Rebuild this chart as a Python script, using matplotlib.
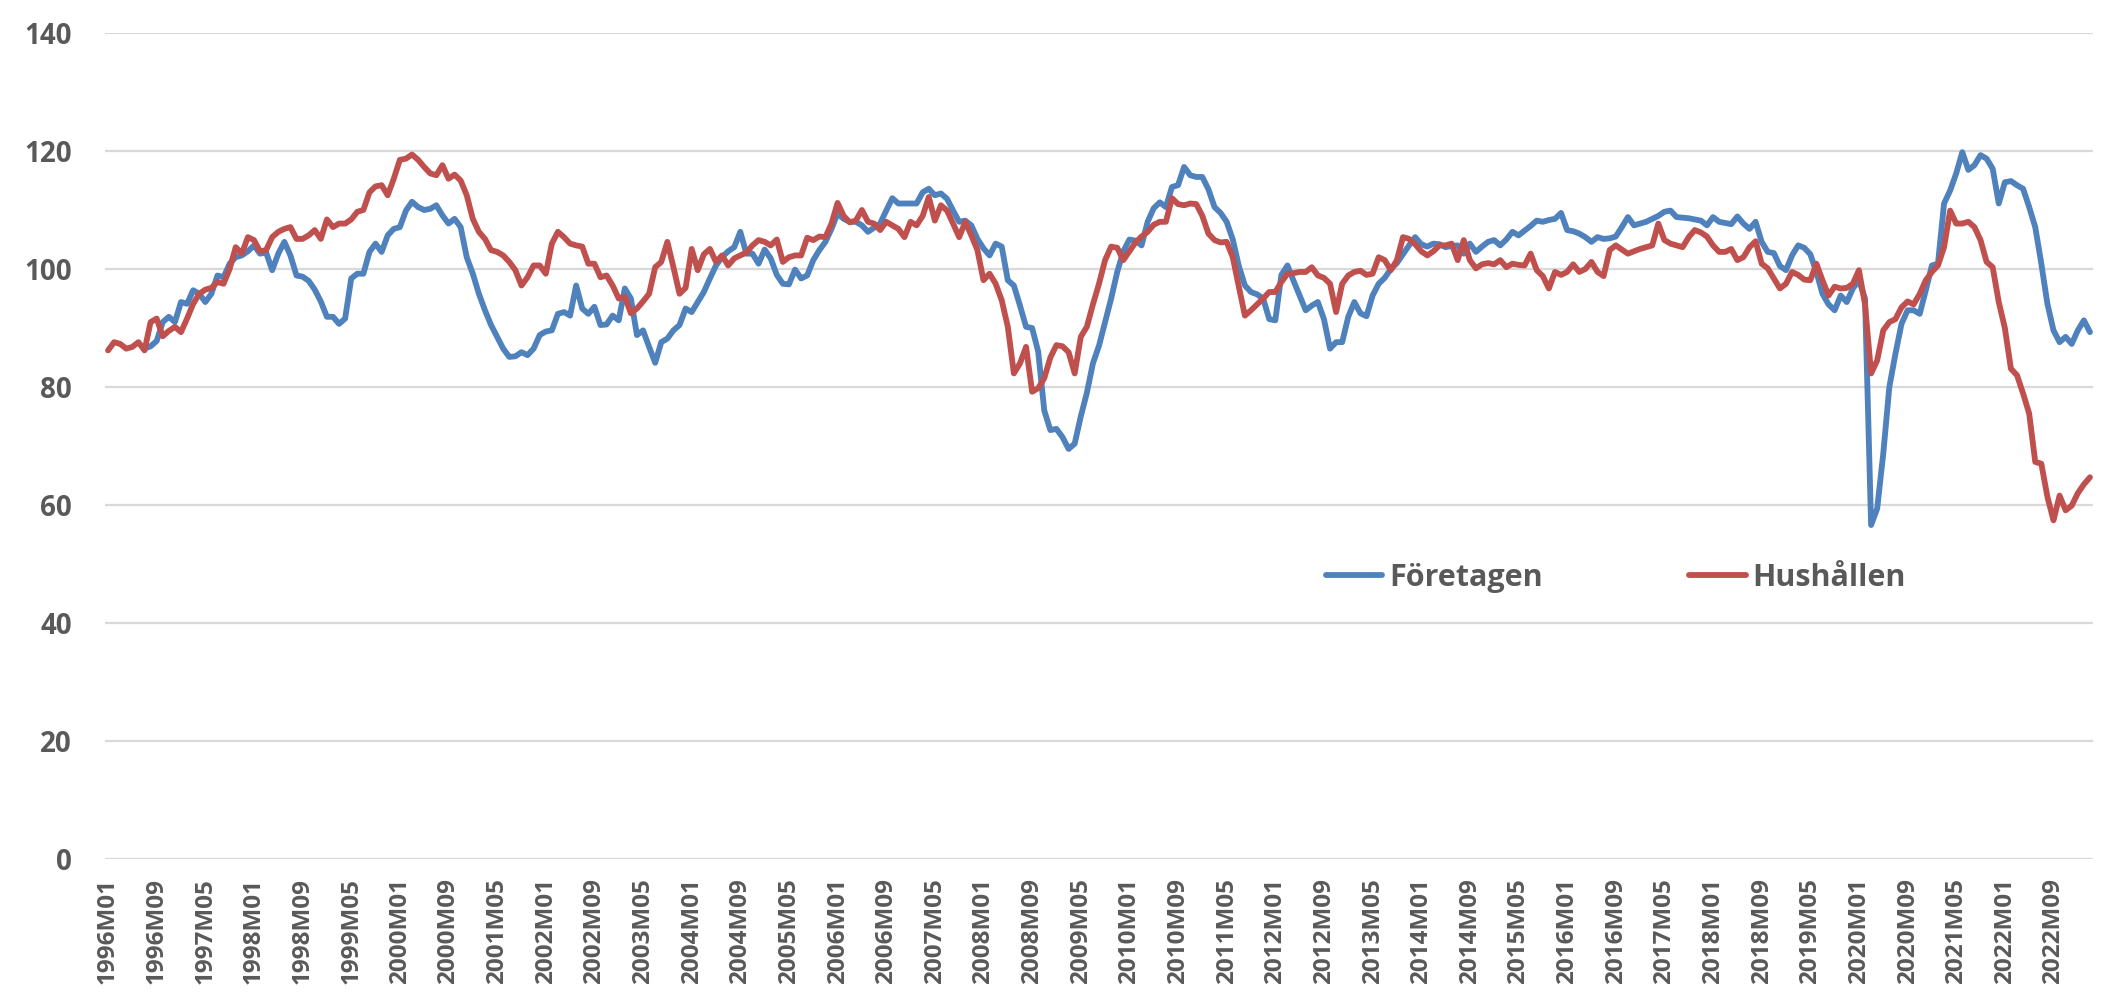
import numpy as np
import matplotlib.pyplot as plt

# Konfidensindikatorer, månadsdata 1996M01 - 2023M03
start_year = 1996

foretagen = [
    None, None, None, None, None, None, 86.5, 86.9, 87.8, 91.0, 91.9, 91.0,  # 1996
    94.4, 94.1, 96.4, 95.8, 94.4, 95.8, 98.9, 98.6, 100.9, 102.0, 102.3, 103.0,  # 1997
    104.0, 102.6, 102.8, 99.8, 102.6, 104.6, 102.3, 98.9, 98.7, 98.0, 96.5, 94.5,  # 1998
    91.9, 91.9, 90.7, 91.6, 98.4, 99.2, 99.2, 102.9, 104.3, 102.9, 105.7, 106.8,  # 1999
    107.1, 109.9, 111.4, 110.5, 110.0, 110.2, 110.8, 109.1, 107.7, 108.5, 107.1, 102.0,  # 2000
    99.2, 95.8, 93.0, 90.5, 88.5, 86.5, 85.1, 85.2, 85.9, 85.4, 86.5, 88.8,  # 2001
    89.4, 89.6, 92.4, 92.7, 92.1, 97.2, 93.3, 92.4, 93.6, 90.5, 90.6, 92.1,  # 2002
    91.3, 96.7, 95.0, 88.8, 89.6, 86.8, 84.1, 87.6, 88.2, 89.6, 90.5, 93.3,  # 2003
    92.7, 94.4, 96.1, 98.4, 100.6, 102.0, 103.0, 103.7, 106.3, 102.6, 102.6, 100.9,  # 2004
    103.3, 101.8, 99.0, 97.5, 97.4, 99.9, 98.4, 98.9, 101.5, 103.2, 104.6, 106.8,  # 2005
    109.4, 108.5, 108.0, 108.0, 107.4, 106.3, 107.0, 107.7, 109.9, 112.0, 111.1, 111.1,  # 2006
    111.1, 111.1, 113.0, 113.6, 112.5, 112.8, 111.9, 109.9, 108.0, 108.2, 107.4, 105.1,  # 2007
    103.5, 102.3, 104.3, 103.8, 98.1, 97.2, 93.8, 90.2, 90.0, 86.0, 76.0, 72.7,  # 2008
    72.9, 71.5, 69.5, 70.4, 75.0, 79.0, 84.0, 87.0, 91.0, 95.0, 99.5, 103.0,  # 2009
    105.0, 104.8, 104.0, 108.0, 110.3, 111.3, 110.5, 113.9, 114.2, 117.3, 115.9, 115.6,  # 2010
    115.6, 113.5, 110.5, 109.5, 108.0, 105.0, 100.5, 97.2, 96.1, 95.7, 95.0, 91.5,  # 2011
    91.3, 99.0, 100.6, 98.0, 95.5, 93.0, 93.8, 94.4, 91.5, 86.5, 87.6, 87.6,  # 2012
    91.9, 94.4, 92.5, 92.0, 95.5, 97.5, 98.5, 100.0, 101.0, 102.5, 104.0, 105.4,  # 2013
    104.2, 103.8, 104.3, 104.2, 103.7, 103.9, 104.0, 102.6, 104.3, 102.9, 103.8, 104.6,  # 2014
    104.9, 104.0, 105.0, 106.3, 105.7, 106.5, 107.3, 108.2, 108.0, 108.3, 108.5, 109.5,  # 2015
    106.6, 106.4, 106.0, 105.4, 104.6, 105.4, 105.1, 105.2, 105.5, 107.1, 108.8, 107.4,  # 2016
    107.7, 108.0, 108.5, 109.0, 109.7, 109.9, 108.8, 108.7, 108.6, 108.4, 108.2, 107.4,  # 2017
    108.8, 108.0, 107.8, 107.6, 108.9, 107.7, 106.8, 108.0, 104.6, 102.9, 102.7, 100.5,  # 2018
    99.8, 102.3, 104.0, 103.6, 102.5, 99.5, 95.8, 94.0, 93.0, 95.5, 94.4, 96.7,  # 2019
    98.1, 95.0, 56.6, 59.4, 68.7, 80.0, 85.6, 90.7, 93.0, 93.0, 92.4, 96.4,  # 2020
    100.6, 100.9, 111.1, 113.3, 116.2, 119.8, 116.8, 117.6, 119.3, 118.7, 117.0, 111.1,  # 2021
    114.7, 114.9, 114.2, 113.6, 110.5, 107.1, 100.9, 94.1, 89.6, 87.6, 88.5, 87.3,  # 2022
    89.6, 91.3, 89.3,  # 2023
]

hushallen = [
    86.2, 87.6, 87.3, 86.5, 86.8, 87.6, 86.2, 91.0, 91.6, 88.6, 89.5, 90.2,  # 1996
    89.3, 91.6, 94.1, 95.8, 96.5, 96.8, 97.8, 97.5, 100.0, 103.7, 102.6, 105.4,  # 1997
    104.9, 103.0, 103.2, 105.4, 106.3, 106.8, 107.1, 105.1, 105.1, 105.7, 106.6, 105.1,  # 1998
    108.4, 107.1, 107.7, 107.7, 108.4, 109.7, 110.0, 113.0, 114.0, 114.2, 112.5, 115.3,  # 1999
    118.5, 118.7, 119.4, 118.5, 117.3, 116.2, 115.9, 117.6, 115.3, 116.0, 115.0, 112.5,  # 2000
    108.5, 106.3, 105.1, 103.2, 102.9, 102.3, 101.2, 99.8, 97.2, 98.6, 100.6, 100.6,  # 2001
    99.2, 104.3, 106.3, 105.4, 104.3, 104.0, 103.8, 100.9, 100.9, 98.6, 98.9, 97.2,  # 2002
    95.0, 95.3, 92.5, 93.3, 94.5, 95.8, 100.3, 101.2, 104.6, 100.3, 95.8, 96.8,  # 2003
    103.4, 99.8, 102.5, 103.4, 101.2, 102.3, 100.6, 101.8, 102.3, 102.8, 104.0, 104.9,  # 2004
    104.6, 104.0, 105.0, 101.2, 102.0, 102.3, 102.3, 105.3, 104.9, 105.5, 105.4, 107.7,  # 2005
    111.2, 109.0, 107.9, 108.2, 110.0, 108.0, 107.7, 106.6, 108.0, 107.4, 106.8, 105.4,  # 2006
    108.0, 107.4, 109.0, 112.2, 108.2, 110.8, 109.9, 107.7, 105.4, 108.0, 105.7, 103.2,  # 2007
    98.1, 99.2, 97.5, 94.7, 90.2, 82.3, 84.0, 86.8, 79.2, 79.8, 81.5, 85.0,  # 2008
    87.1, 86.9, 85.9, 82.3, 88.5, 90.2, 94.0, 97.5, 101.5, 103.8, 103.6, 101.5,  # 2009
    103.0, 104.5, 105.5, 106.3, 107.5, 108.0, 108.0, 112.0, 111.0, 110.8, 111.1, 111.0,  # 2010
    109.0, 106.0, 104.9, 104.5, 104.6, 102.0, 97.0, 92.1, 93.0, 94.0, 95.0, 96.1,  # 2011
    96.1, 97.8, 99.2, 99.3, 99.5, 99.5, 100.3, 98.9, 98.5, 97.5, 92.7, 97.5,  # 2012
    98.9, 99.5, 99.7, 99.0, 99.2, 102.0, 101.5, 99.8, 101.5, 105.4, 105.1, 104.2,  # 2013
    103.0, 102.3, 103.0, 104.0, 104.0, 104.3, 101.5, 104.9, 101.5, 100.1, 100.8, 101.0,  # 2014
    100.8, 101.5, 100.3, 100.9, 100.7, 100.6, 102.6, 99.8, 98.8, 96.7, 99.5, 99.0,  # 2015
    99.5, 100.8, 99.5, 100.0, 101.2, 99.5, 98.8, 103.2, 104.0, 103.3, 102.6, 103.0,  # 2016
    103.4, 103.7, 104.0, 107.7, 104.9, 104.3, 104.0, 103.7, 105.4, 106.6, 106.2, 105.5,  # 2017
    104.0, 102.9, 102.9, 103.4, 101.5, 102.0, 103.7, 104.7, 100.9, 100.1, 98.4, 96.7,  # 2018
    97.5, 99.5, 99.0, 98.2, 98.1, 100.9, 98.1, 95.5, 97.0, 96.7, 96.8, 97.5,  # 2019
    99.8, 94.0, 82.3, 84.5, 89.6, 91.0, 91.5, 93.5, 94.5, 94.0, 95.8, 98.1,  # 2020
    99.5, 100.6, 103.7, 109.9, 107.7, 107.7, 108.0, 107.1, 104.9, 101.2, 100.3, 94.4,  # 2021
    90.0, 83.1, 82.0, 78.9, 75.5, 67.3, 67.0, 61.4, 57.4, 61.6, 59.1, 59.9,  # 2022
    62.0, 63.5, 64.7,  # 2023
]

n = len(hushallen)
months = [f"{start_year + k // 12}M{k % 12 + 1:02d}" for k in range(n)]

plt.rcParams['font.family'] = ['Open Sans', 'DejaVu Sans']
grey = '#595959'

W, H = 2118, 993
fig = plt.figure(figsize=(W / 100, H / 100), dpi=100)
ax = fig.add_axes([105 / W, 1 - 859 / H, (2093 - 105) / W, (859 - 33) / H])

x = np.arange(n)
ax.plot(x, np.array(foretagen, dtype=float), color='#4F81BD', lw=4.2,
        solid_joinstyle='round', solid_capstyle='round', label='Företagen')
ax.plot(x, np.array(hushallen, dtype=float), color='#C0504D', lw=4.2,
        solid_joinstyle='round', solid_capstyle='round', label='Hushållen')

ax.set_xlim(-0.5, n - 0.5)
ax.set_ylim(0, 140)
ax.set_yticks(range(0, 141, 20))
ax.set_xticks(x[::8])
ax.set_xticklabels(months[::8], rotation=90)
ax.grid(axis='y', color='#D9D9D9', lw=1.6)
ax.set_axisbelow(True)
for s in ax.spines.values():
    s.set_visible(False)

ax.tick_params(axis='x', length=0, labelsize=17.5, colors=grey, pad=14)
ax.tick_params(axis='y', length=0, labelsize=20, colors=grey, pad=24)
for lbl in ax.get_xticklabels() + ax.get_yticklabels():
    lbl.set_fontweight('bold')

fig.legend(loc='center', bbox_to_anchor=(0.763, 0.418), ncol=2, frameon=False,
           prop={'weight': 'bold', 'size': 22}, labelcolor=grey,
           columnspacing=4.8, handlelength=1.85, handletextpad=0.22)

fig.savefig('out.png', dpi=100)
